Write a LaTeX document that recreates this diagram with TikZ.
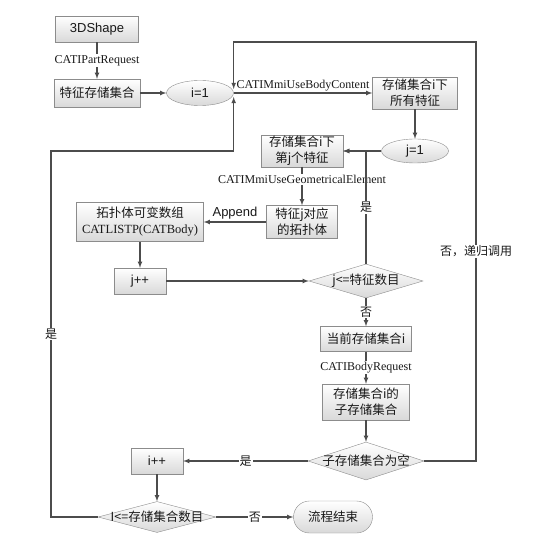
\documentclass[tikz,border=0pt]{standalone}
\usepackage{fontspec}
\setmainfont{Liberation Serif}
\newfontfamily\cjk{Noto Sans CJK SC}
\newfontfamily\arialfont{Liberation Sans}
\usetikzlibrary{arrows}
\usetikzlibrary{shapes.geometric}

\begin{document}
\begin{tikzpicture}[x=1pt,y=-1pt]
	\tikzset{box/.style={draw=black!45,top color=white,bottom color=black!15,inner sep=1pt,align=center,text=black!90,font=\cjk\fontsize{12.5}{16}\selectfont},
		arial/.style={font=\arialfont\fontsize{13}{15}\selectfont},
		ell/.style={box,ellipse,inner sep=0pt},
		dia/.style={box,diamond,aspect=3.5,inner xsep=-16pt,inner ysep=0pt},
		line/.style={draw=black!70,line width=1.1pt},
		arr/.style={line,-latex},
		lbl/.style={fill=white,inner sep=1pt,text=black!90,font=\fontsize{12}{14}\selectfont},
		clbl/.style={lbl,font=\cjk\fontsize{12}{14}\selectfont}}
	
	% Fix the size of the page
	\useasboundingbox (0,0) rectangle (545,553);
	
	% Top row
	\node[box,arial,minimum width=83pt,minimum height=26pt] (shape) at (97,29) {3DShape};
	\node[box,minimum width=86pt,minimum height=28pt] (featset) at (97,93) {特征存储集合};
	\node[ell,arial,minimum width=67pt,minimum height=25pt] (i1) at (200,93) {i=1};
	\node[box,minimum width=85pt,minimum height=32pt] (allfeat) at (415,93) {存储集合i下\\所有特征};
	
	% Loop over the features j
	\node[ell,arial,minimum width=67pt,minimum height=24pt] (j1) at (415,151) {j=1};
	\node[box,minimum width=82pt,minimum height=31pt] (jfeat) at (302,151) {存储集合i下\\第j个特征};
	\node[box,minimum width=71pt,minimum height=33pt] (topo) at (302,222) {特征j对应\\的拓扑体};
	\node[box,minimum width=127pt,minimum height=39pt] (list) at (140,222) {拓扑体可变数组\\{\rmfamily CATLISTP(CATBody)}};
	\node[box,arial,minimum width=52pt,minimum height=26pt] (jpp) at (140,281) {j++};
	\node[dia,minimum width=114pt,minimum height=34pt] (jcond) at (366,281) {j<=特征数目};
	
	% Sub sets of the set i
	\node[box,minimum width=91pt,minimum height=25pt] (curset) at (366,339) {当前存储集合i};
	\node[box,minimum width=87pt,minimum height=36pt] (subset) at (366,402) {存储集合i的\\子存储集合};
	\node[dia,minimum width=116pt,minimum height=38pt] (subcond) at (366,461) {子存储集合为空};
	\node[box,arial,minimum width=52pt,minimum height=26pt] (ipp) at (157,461) {i++};
	\node[dia,minimum width=118pt,minimum height=31pt] (icond) at (157,517) {I<=存储集合数目};
	\node[box,rounded corners=16pt,minimum width=79pt,minimum height=32pt] (finish) at (333,517) {流程结束};
	
	% Corners of the two loops
	\coordinate (loopL) at (51,151);
	\coordinate (loopR) at (476,42);
	
	% Arrows between the steps
	\draw[arr] (shape) -- node[lbl]{CATIPartRequest} (featset);
	\draw[arr] (featset) -- (i1);
	\draw[arr] (i1) -- node[above,inner sep=1pt,text=black!90,font=\fontsize{12}{14}\selectfont]{CATIMmiUseBodyContent} (allfeat);
	\draw[arr] (allfeat) -- (j1);
	\draw[arr] (j1) -- (jfeat);
	\draw[arr] (jfeat) -- node[lbl,pos=0.33]{CATIMmiUseGeometricalElement} (topo);
	\draw[arr] (topo) -- node[above,inner sep=2pt,text=black!90,arial]{Append} (list);
	\draw[arr] (list) -- (jpp);
	\draw[arr] (jpp) -- (jcond);
	\draw[arr] (jcond.north) -- node[clbl]{是} (jcond.north |- jfeat.east) -- (jfeat.east);
	\draw[arr] (jcond) -- node[clbl]{否} (curset);
	\draw[arr] (curset) -- node[lbl]{CATIBodyRequest} (subset);
	\draw[arr] (subset) -- (subcond);
	\draw[arr] (subcond) -- node[clbl]{是} (ipp);
	\draw[arr] (ipp) -- (icond);
	\draw[arr] (icond) -- node[clbl]{否} (finish);
	
	% Back to i=1
	\draw[arr] (icond.west) -| node[clbl,pos=0.75]{是} (loopL) -| ([yshift=-4pt]i1.east);
	\draw[arr] (subcond.east) -| node[clbl,pos=0.75]{否，递归调用} (loopR) -| ([yshift=4pt]i1.east);
	
\end{tikzpicture}
\end{document}
